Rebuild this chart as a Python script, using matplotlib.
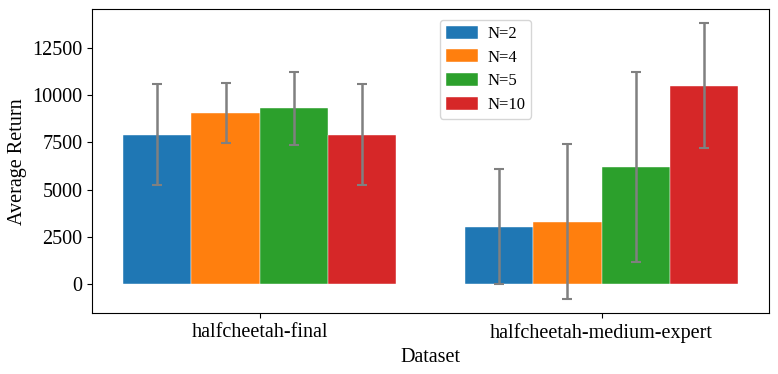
import numpy as np
import matplotlib.pyplot as plt

plt.rcParams['font.family'] = ['Liberation Serif', 'DejaVu Serif']

datasets = ['halfcheetah-final', 'halfcheetah-medium-expert']
labels = ['N=2', 'N=4', 'N=5', 'N=10']
means = [
    [7920, 3030],
    [9065, 3290],
    [9310, 6190],
    [7920, 10525],
]
errs = [
    [2680, 3060],
    [1610, 4135],
    [1930, 5050],
    [2680, 3320],
]
colors = ['#1f77b4', '#ff7f0e', '#2ca02c', '#d62728']

fig = plt.figure(figsize=(7.78, 3.74), dpi=100)
ax = fig.add_axes([92.3 / 778, 1 - 313.3 / 374, 676.7 / 778, 304 / 374])

x = np.arange(len(datasets))
w = 0.2
for i in range(len(labels)):
    ax.bar(x + (i - 1.5) * w, means[i], w, yerr=errs[i], color=colors[i],
           label=labels[i], capsize=3.6, edgecolor='white', linewidth=0.3,
           error_kw=dict(ecolor='gray', elinewidth=1.8, capthick=1.5))

ax.set_xticks(x)
ax.set_xticklabels(datasets, fontsize=14.5)
ax.tick_params(axis='y', labelsize=14.5)
ax.set_xlabel('Dataset', fontsize=14.5)
ax.set_ylabel('Average Return', fontsize=14.5)
ax.legend(loc='upper left', bbox_to_anchor=(0.514, 0.965), borderaxespad=0,
          fontsize=12, handlelength=1.9, handleheight=0.8, labelspacing=0.45,
          handletextpad=0.6, borderpad=0.35)

fig.savefig('out.png', dpi=100)
